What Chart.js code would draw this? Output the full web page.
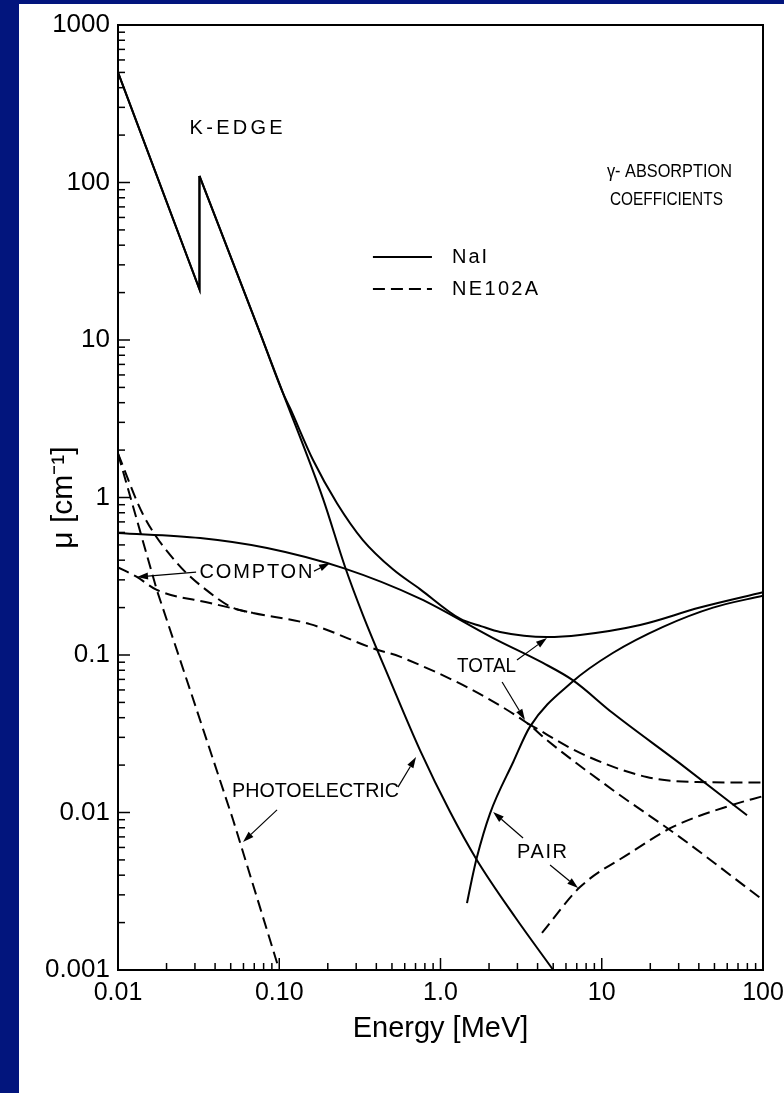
<!DOCTYPE html>
<html>
<head>
<meta charset="utf-8">
<title>γ-absorption coefficients</title>
<script src="https://cdn.jsdelivr.net/npm/chart.js@4.4.1/dist/chart.umd.min.js"></script>
<style>
  html, body { margin: 0; padding: 0; background: #fff; }
  canvas { display: block; }
</style>
</head>
<body>
<canvas id="chart" width="784" height="1093"></canvas>
<script>
// Energy in MeV, mu in cm^-1
const naiPhotoE  = [0.01, 0.032, 0.032, 0.076, 0.1055, 0.187, 0.256, 0.33, 0.486, 0.746, 1.146, 1.68, 2.90, 5.0];
const naiPhotoMu = [500, 21, 110, 11.1, 4.6, 0.98, 0.362, 0.18, 0.0693, 0.0249, 0.0101, 0.005, 0.00217, 0.001];

const naiTotalE  = [0.01, 0.032, 0.032, 0.076, 0.1055, 0.1166, 0.162, 0.228, 0.33, 0.507, 0.746, 1.32, 1.8, 2.34, 4.57, 7.33, 17.3, 40.6, 100];
const naiTotalMu = [500, 21, 110, 11.1, 4.6, 3.7, 1.73, 0.92, 0.537, 0.35, 0.262, 0.170, 0.152, 0.14, 0.13, 0.134, 0.155, 0.20, 0.25];

const naiComptonE  = [0.01, 0.0323, 0.084, 0.25, 0.746, 2.12, 4.32, 6.64, 11.7, 30.5, 79.6];
const naiComptonMu = [0.595, 0.553, 0.478, 0.356, 0.228, 0.128, 0.089, 0.069, 0.0428, 0.0205, 0.0096];

const naiPairE  = [1.46, 1.562, 1.677, 2.03, 2.83, 3.59, 6.55, 11.7, 24, 49, 100];
const naiPairMu = [0.00266, 0.00373, 0.00514, 0.00988, 0.021, 0.0351, 0.0674, 0.103, 0.151, 0.20, 0.238];

const nePhotoE  = [0.01, 0.0174, 0.028, 0.0517, 0.1];
const nePhotoMu = [1.9, 0.259, 0.06, 0.009, 0.001];

const neTotalE  = [0.01, 0.0143, 0.0232, 0.0372, 0.0517, 0.0687, 0.155, 0.404, 0.56, 3.44, 7.33, 19, 39, 100];
const neTotalMu = [1.9, 0.78, 0.384, 0.248, 0.199, 0.185, 0.157, 0.108, 0.0977, 0.037, 0.0239, 0.0168, 0.0156, 0.0155];

const neComptonE  = [0.01, 0.0131, 0.0174, 0.0372, 0.0687, 0.155, 0.404, 0.56, 3.44, 4.57, 11.7, 30.5, 100];
const neComptonMu = [0.36, 0.313, 0.259, 0.214, 0.185, 0.157, 0.108, 0.0977, 0.037, 0.0288, 0.0139, 0.00698, 0.00278];

const nePairE  = [4.26, 7.33, 15, 27.6, 65, 100];
const nePairMu = [0.00172, 0.00336, 0.00553, 0.0081, 0.0112, 0.0127];

// axis decades and their printed labels
const xDecades = [0.01, 0.1, 1, 10, 100];
const xTickLabels = ['0.01', '0.10', '1.0', '10', '100'];
const yDecades = [0.001, 0.01, 0.1, 1, 10, 100, 1000];
const yTickLabels = ['0.001', '0.01', '0.1', '1', '10', '100', '1000'];

const FONT = "'Liberation Sans', Arial, sans-serif";
const NAVY = '#02157d';
const DASH = [12, 6];

// text labels inside the plot, placed in data units; w = printed width in px
const annotations = [
    { text: 'K-EDGE', e: 0.054, mu: 219, align: 'center', w: 93, size: 20 },
    { text: 'γ- ABSORPTION', e: 26.1, mu: 117, align: 'center', w: 124, size: 19 },
    { text: 'COEFFICIENTS', e: 25.0, mu: 77.4, align: 'center', w: 112, size: 19 },
    { text: 'NaI', e: 1.18, mu: 33.6, align: 'left', w: 35, size: 20 },
    { text: 'NE102A', e: 1.18, mu: 20.8, align: 'left', w: 86, size: 20 },
    { text: 'COMPTON', e: 0.0717, mu: 0.332, align: 'center', w: 113, size: 20 },
    { text: 'TOTAL', e: 1.915, mu: 0.0851, align: 'center', w: 58, size: 20 },
    { text: 'PHOTOELECTRIC', e: 0.1667, mu: 0.0135, align: 'center', w: 166, size: 20 },
    { text: 'PAIR', e: 4.26, mu: 0.00561, align: 'center', w: 50, size: 20 }
];

// arrows: [fromE, fromMu, toE, toMu]
const arrows = [
    [0.0305, 0.336, 0.01312, 0.313],
    [0.1643, 0.341, 0.2065, 0.384],
    [2.98, 0.0929, 4.57, 0.128],
    [2.41, 0.0674, 3.34, 0.0387],
    [0.0969, 0.0104, 0.0596, 0.0065],
    [0.545, 0.0145, 0.705, 0.0225],
    [3.25, 0.00689, 2.12, 0.01007],
    [4.78, 0.00464, 7.13, 0.00332]
];

// legend samples
const legendE = [0.381, 0.885];
const legendMu = [33.6, 21.1];

function minorTicks(decades) {
    const out = [];
    decades.forEach((d, i) => {
        if (i === decades.length - 1) { out.push(d); return; }
        for (let m = 1; m <= 9; m++) out.push(d * m);
    });
    return out;
}

function series(E, mu, dashed, smooth) {
    return {
        data: E.map((e, i) => ({ x: e, y: mu[i] })),
        borderColor: '#000',
        borderWidth: 2,
        borderDash: dashed ? DASH : [],
        pointRadius: 0,
        fill: false,
        tension: smooth ? 0.4 : 0,
        cubicInterpolationMode: smooth ? 'monotone' : 'default'
    };
}

// the K-edge jump is drawn straight, the rest of the curve smoothed
function withEdge(E, mu) {
    const k = E.findIndex((e, i) => i > 0 && e === E[i - 1]);
    return [
        series(E.slice(0, k + 1), mu.slice(0, k + 1), false, false),
        series(E.slice(k), mu.slice(k), false, true)
    ];
}

// where the NE102A total runs on top of the Compton curve, draw it only once
function hideShared(ds, E, mu, refE, refMu) {
    const onRef = i => refE.some((e, j) => e === E[i] && refMu[j] === mu[i]);
    ds.segment = {
        borderColor: c => (onRef(c.p0DataIndex) && onRef(c.p1DataIndex)) ? 'rgba(0,0,0,0)' : undefined
    };
    return ds;
}

function line(ctx, x1, y1, x2, y2) {
    ctx.beginPath();
    ctx.moveTo(x1, y1);
    ctx.lineTo(x2, y2);
    ctx.stroke();
}

function arrow(ctx, x1, y1, x2, y2) {
    const ang = Math.atan2(y2 - y1, x2 - x1);
    const len = 11, half = 3.5;
    const bx = x2 - len * Math.cos(ang), by = y2 - len * Math.sin(ang);
    line(ctx, x1, y1, bx, by);
    ctx.beginPath();
    ctx.moveTo(x2, y2);
    ctx.lineTo(bx + half * Math.sin(ang), by - half * Math.cos(ang));
    ctx.lineTo(bx - half * Math.sin(ang), by + half * Math.cos(ang));
    ctx.closePath();
    ctx.fill();
}

const decorations = {
    id: 'decorations',
    beforeDraw(chart) {
        const ctx = chart.ctx;
        ctx.save();
        ctx.fillStyle = '#fff';
        ctx.fillRect(0, 0, chart.width, chart.height);
        ctx.fillStyle = NAVY;
        ctx.fillRect(0, 0, 19, chart.height);
        ctx.fillRect(0, 0, chart.width, 4);
        ctx.restore();
    },
    afterDraw(chart) {
        const { ctx, chartArea: a, scales: { x, y } } = chart;
        ctx.save();
        ctx.strokeStyle = '#000';
        ctx.fillStyle = '#000';

        // frame
        ctx.lineWidth = 2;
        ctx.strokeRect(a.left, a.top, a.right - a.left, a.bottom - a.top);

        // inward tick marks
        ctx.lineWidth = 1.5;
        x.ticks.forEach(t => {
            const px = x.getPixelForValue(t.value);
            const len = xDecades.includes(t.value) ? 12 : 7;
            line(ctx, px, a.bottom, px, a.bottom - len);
        });
        y.ticks.forEach(t => {
            const py = y.getPixelForValue(t.value);
            const len = yDecades.includes(t.value) ? 12 : 7;
            line(ctx, a.left, py, a.left + len, py);
        });

        // legend
        ctx.lineWidth = 2;
        const lx1 = x.getPixelForValue(legendE[0]), lx2 = x.getPixelForValue(legendE[1]);
        line(ctx, lx1, y.getPixelForValue(legendMu[0]), lx2, y.getPixelForValue(legendMu[0]));
        ctx.setLineDash(DASH);
        line(ctx, lx1, y.getPixelForValue(legendMu[1]), lx2, y.getPixelForValue(legendMu[1]));
        ctx.setLineDash([]);

        // arrows
        ctx.lineWidth = 1.2;
        arrows.forEach(([e1, m1, e2, m2]) => {
            arrow(ctx, x.getPixelForValue(e1), y.getPixelForValue(m1),
                x.getPixelForValue(e2), y.getPixelForValue(m2));
        });

        // labels, spaced out (or squeezed) to the printed width
        ctx.textBaseline = 'middle';
        ctx.textAlign = 'left';
        annotations.forEach(l => {
            ctx.font = l.size + 'px ' + FONT;
            ctx.letterSpacing = '0px';
            const natural = ctx.measureText(l.text).width;
            const gap = l.text.length > 1 ? Math.max((l.w - natural) / (l.text.length - 1), 0) : 0;
            ctx.letterSpacing = gap + 'px';
            let px = x.getPixelForValue(l.e);
            if (l.align === 'center') px -= l.w / 2;
            ctx.fillText(l.text, px, y.getPixelForValue(l.mu), l.w + gap + 1);
        });
        ctx.restore();
    }
};

new Chart(document.getElementById('chart'), {
    type: 'line',
    data: {
        datasets: [
            ...withEdge(naiPhotoE, naiPhotoMu),
            ...withEdge(naiTotalE, naiTotalMu),
            series(naiComptonE, naiComptonMu, false, true),
            series(naiPairE, naiPairMu, false, true),
            series(nePhotoE, nePhotoMu, true, false),
            hideShared(series(neTotalE, neTotalMu, true, true), neTotalE, neTotalMu, neComptonE, neComptonMu),
            series(neComptonE, neComptonMu, true, true),
            series(nePairE, nePairMu, true, true)
        ]
    },
    options: {
        responsive: false,
        animation: false,
        devicePixelRatio: 1,
        layout: { padding: { left: 36, right: 21, top: 25, bottom: 43 } },
        plugins: { legend: { display: false }, tooltip: { enabled: false } },
        scales: {
            x: {
                type: 'logarithmic',
                min: 0.01,
                max: 100,
                afterBuildTicks: s => { s.ticks = minorTicks(xDecades).map(v => ({ value: v })); },
                afterFit: s => { s.height = 80; s.paddingLeft = 0; s.paddingRight = 0; },
                grid: { display: false, drawTicks: false },
                border: { display: false },
                ticks: {
                    autoSkip: false,
                    maxRotation: 0,
                    padding: 8,
                    color: '#000',
                    font: { family: FONT, size: 25 },
                    callback: v => {
                        const i = xDecades.indexOf(v);
                        return i >= 0 ? xTickLabels[i] : '';
                    }
                },
                title: {
                    display: true,
                    text: 'Energy [MeV]',
                    color: '#000',
                    font: { family: FONT, size: 29 },
                    padding: { top: 0, bottom: 4 }
                }
            },
            y: {
                type: 'logarithmic',
                min: 0.001,
                max: 1000,
                afterBuildTicks: s => { s.ticks = minorTicks(yDecades).map(v => ({ value: v })); },
                afterFit: s => { s.width = 82; s.paddingTop = 0; s.paddingBottom = 0; },
                grid: { display: false, drawTicks: false },
                border: { display: false },
                ticks: {
                    autoSkip: false,
                    padding: 8,
                    color: '#000',
                    font: { family: FONT, size: 26 },
                    callback: v => {
                        const i = yDecades.indexOf(v);
                        return i >= 0 ? yTickLabels[i] : '';
                    }
                },
                title: {
                    display: true,
                    text: 'μ [cm⁻¹]',
                    color: '#000',
                    font: { family: FONT, size: 30 },
                    padding: { top: 10, bottom: 4 }
                }
            }
        }
    },
    plugins: [decorations]
});
</script>
</body>
</html>
